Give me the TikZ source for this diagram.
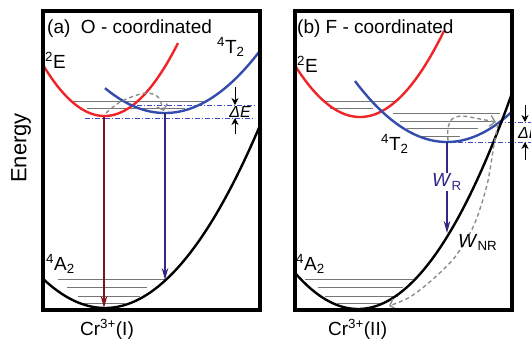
\documentclass[tikz,border=0pt]{standalone}
\usepackage{fontspec}
\setmainfont{Liberation Sans}
\usetikzlibrary{arrows.meta}
\definecolor{curvered}{RGB}{238,36,40}
\definecolor{curveblue}{RGB}{52,76,172}
\definecolor{arrowred}{RGB}{132,18,26}
\definecolor{arrownavy}{RGB}{48,40,132}
\definecolor{levelgray}{RGB}{118,118,118}
\definecolor{dashgray}{RGB}{140,140,140}
\definecolor{gapblue}{RGB}{64,72,200}
\begin{document}
\begin{tikzpicture}[x=1pt, y=-1pt, >={Stealth[length=12pt,width=6.5pt]},
    every node/.style={font=\fontsize{19}{22}\selectfont, inner sep=0pt},
    panel/.style={line width=3.5pt},
    pot/.style={line width=2.4pt, smooth, samples=80},
    level/.style={levelgray, line width=0.9pt},
    gap/.style={gapblue, line width=0.8pt, dash pattern=on 5pt off 2pt on 1pt off 2pt},
    emit/.style={->, line width=1.5pt},
    hop/.style={dashgray, line width=1.4pt, dash pattern=on 4pt off 3pt, -{Straight Barb[length=5pt,width=11pt]}},
    dearrow/.style={-{Stealth[length=7pt,width=7pt]}, line width=0.9pt},
    dlabel/.style={font=\fontsize{16}{18}\selectfont\itshape}]
  \useasboundingbox (0,0) rectangle (531,338);

  \node[rotate=90, font=\fontsize{22}{26}\selectfont] (energy) at (21,148) {Energy};

  % (a) O - coordinated
  \draw[level] (72,101) -- (205,101);
  \draw[level] (87,108) -- (185,108);
  \draw[level] (58,279) -- (165,279);
  \draw[level] (67,287) -- (147,287);
  \draw[level] (78,296) -- (140,296);
  \draw[level] (83,303) -- (125,303);
  \draw[gap] (137,105) -- (255,105);
  \draw[gap] (85,118) -- (255,118);
  \draw[pot, curvered] plot[domain=43:178] (\x,{116-1.35*((\x-104.5)/10)^2});
  \draw[pot, curveblue] plot[domain=105:260] (\x,{113-0.69*((\x-165)/10)^2});
  \draw[pot, black] plot[domain=43:260] (\x,{308-0.76*((\x-105)/10)^2});
  \coordinate (redA) at (104,117);
  \coordinate (gndA) at (104,308);
  \coordinate (blueA) at (165,113);
  \coordinate (hitA) at (165,280);
  \draw[emit, arrowred] (redA) -- (gndA);
  \draw[emit, arrownavy] (blueA) -- (hitA);
  \draw[hop] plot[smooth] coordinates {(106,113) (120,102) (137,95) (148,93) (158,97) (164,111)};
  \coordinate (dEa1) at (235,87);
  \coordinate (dEa2) at (235,105);
  \coordinate (dEa3) at (235,134);
  \coordinate (dEa4) at (235,118);
  \draw[dearrow] (dEa1) -- (dEa2);
  \draw[dearrow] (dEa3) -- (dEa4);
  \node[dlabel] (dEA) at (240,111.5) {ΔE};
  \draw[panel] (43,11) rectangle (260,310);
  \node[anchor=base west] (titleA) at (47,33) {(a)\ \ O - coordinated};
  \node[anchor=base west] (eA) at (45,68) {\textsuperscript{2}E};
  \node[anchor=base west] (tA) at (217,53) {\textsuperscript{4}T\textsubscript{2}};
  \node[anchor=base west] (aA) at (46,270) {\textsuperscript{4}A\textsubscript{2}};
  \node[anchor=base west] (crA) at (80,335) {Cr\textsuperscript{3+}(I)};

  % (b) F - coordinated
  \draw[level] (323,101) -- (395,101);
  \draw[level] (330,108) -- (373,108);
  \draw[level] (393,113) -- (500,113);
  \draw[level] (400,121) -- (493,121);
  \draw[level] (407,128) -- (478,128);
  \draw[level] (417,136) -- (460,136);
  \draw[level] (305,279) -- (413,279);
  \draw[level] (318,287) -- (403,287);
  \draw[level] (325,296) -- (398,296);
  \draw[level] (337,303) -- (383,303);
  \draw[gap] (498,122) -- (535,122);
  \draw[gap] (448,142) -- (535,142);
  \draw[pot, curvered] plot[domain=295:444] (\x,{117-1.22*((\x-360)/10)^2});
  \draw[pot, curveblue] plot[domain=355:511] (\x,{142-0.72*((\x-447)/10)^2});
  \draw[pot, black] plot[domain=295:512] (\x,{309-0.91*((\x-358)/10)^2});
  \coordinate (blueB) at (447,142);
  \coordinate (hitB) at (447,233);
  \draw[emit, arrownavy] (blueB) -- node[pos=0.44, fill=white, inner sep=1pt, text=arrownavy] (wR) {\textit{W}\textsubscript{R}} (hitB);
  \draw[hop] plot[smooth] coordinates {(448,141) (448,128) (452,119) (462,116) (480,119) (496,122)};
  \draw[hop] plot[smooth] coordinates {(498,124) (494,145) (487,185) (474,225) (455,257) (432,280) (410,297) (389,306)};
  \node[anchor=base west] (wNR) at (458,247) {\textit{W}\textsubscript{NR}};
  \coordinate (dEb1) at (525,105);
  \coordinate (dEb2) at (525,122);
  \coordinate (dEb3) at (525,160);
  \coordinate (dEb4) at (525,142);
  \draw[dearrow] (dEb1) -- (dEb2);
  \draw[dearrow] (dEb3) -- (dEb4);
  \node[dlabel, anchor=west] (dEB) at (518,133) {ΔE};
  \draw[panel] (295,11) rectangle (512,310);
  \node[anchor=base west] (titleB) at (297,33) {(b) F - coordinated};
  \node[anchor=base west] (eB) at (297,72) {\textsuperscript{2}E};
  \node[anchor=base west] (tB) at (381,150) {\textsuperscript{4}T\textsubscript{2}};
  \node[anchor=base west] (aB) at (296,270) {\textsuperscript{4}A\textsubscript{2}};
  \node[anchor=base west] (crB) at (328,335) {Cr\textsuperscript{3+}(II)};
\end{tikzpicture}
\end{document}
